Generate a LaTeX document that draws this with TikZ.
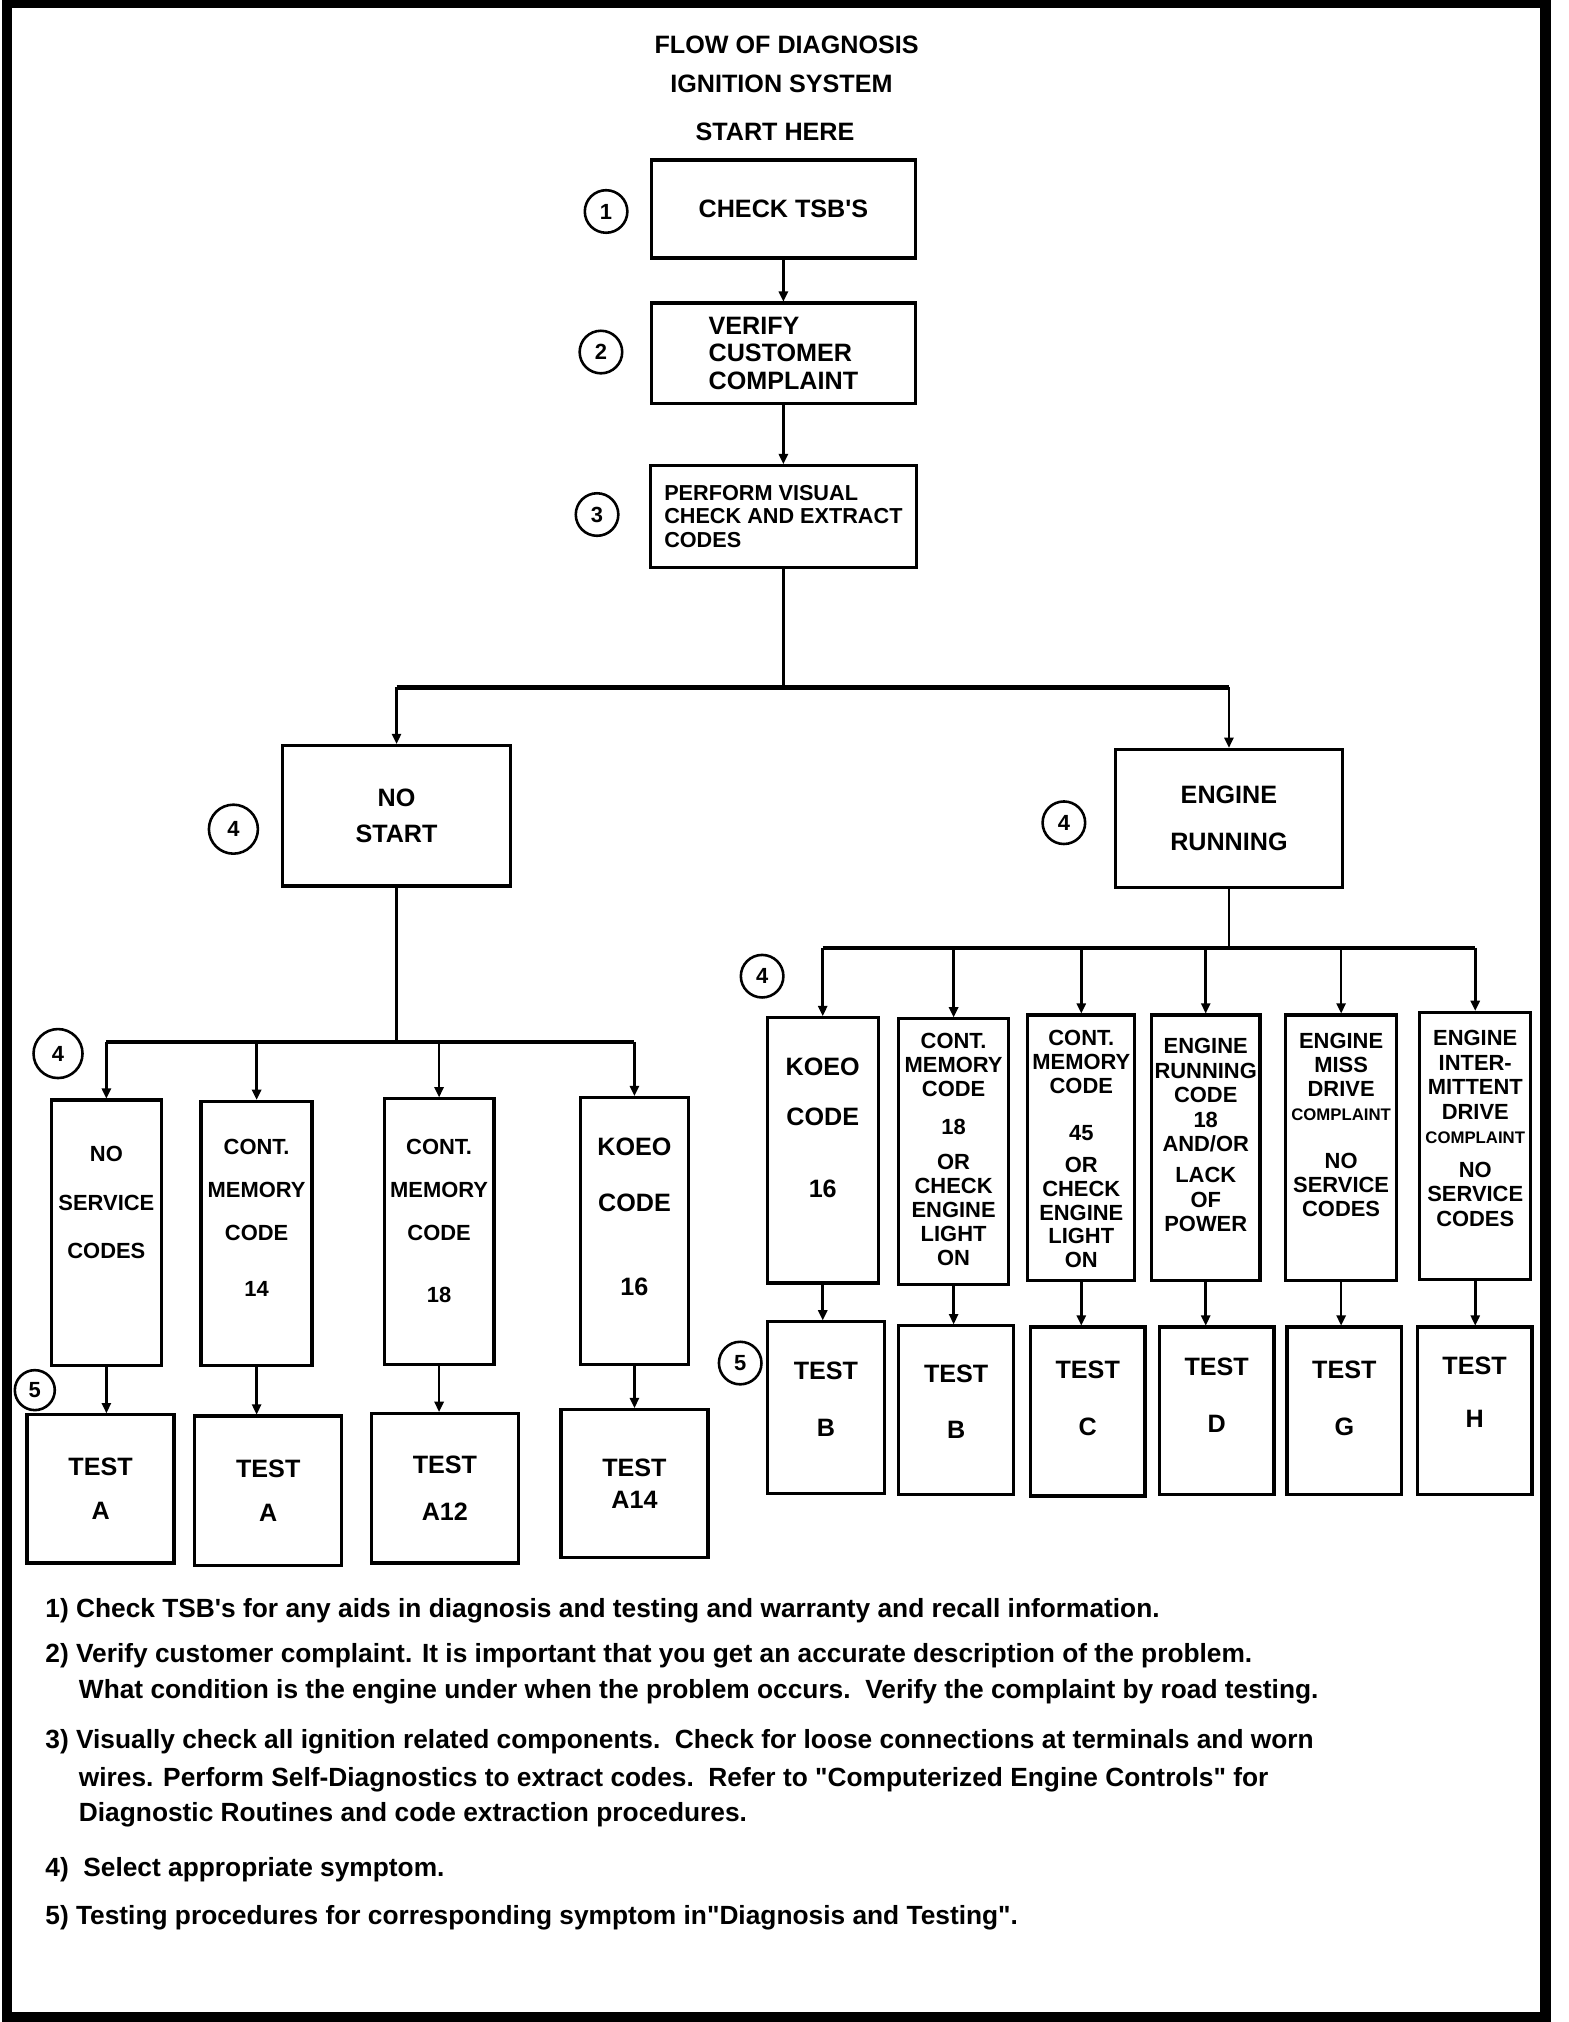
\documentclass[tikz,border=0pt]{standalone}
\usepackage{fontspec}
\setmainfont{Liberation Sans}
\usetikzlibrary{positioning,arrows.meta}

\begin{document}
\begin{tikzpicture}[x=1pt,y=-1pt,
    box/.style={draw,line width=2.6pt,inner sep=0pt,outer sep=0pt},
    txt/.style 2 args={font=\fontsize{#1}{#2}\selectfont\bfseries,align=center,inner sep=0pt},
    num/.style={circle,draw,line width=2pt,minimum size=33pt,inner sep=0pt,font=\fontsize{17}{17}\selectfont\bfseries},
    note/.style={font=\fontsize{20.4}{24}\selectfont\bfseries,anchor=west,inner sep=0pt},
    line/.style={line width=2pt},
    bar/.style={line width=3.5pt},
    arr/.style={line width=2pt,-{Triangle[length=8pt,width=7pt]},shorten >=1pt}]

    \useasboundingbox (0,0) rectangle (1216,1568);
    \draw[line width=8pt] (5.5,2.5) rectangle (1198.5,1564);

    % title
    \node[txt={19.5}{23}] (title1) at (610,35) {FLOW OF DIAGNOSIS};
    \node[txt={19.5}{23}] (title2) at (606,65) {IGNITION SYSTEM};
    \node[txt={19.5}{23}] (start) at (601,102) {START HERE};

    % main column
    \node[box,txt={19.5}{23},minimum width=205pt,minimum height=76pt] (tsb) at (607.5,162) {CHECK TSB\textquotesingle S};
    \node[box,txt={19.5}{21.5},align=left,minimum width=205pt,minimum height=78pt] (verify) at (607.5,274) {VERIFY\\CUSTOMER\\COMPLAINT};
    \node[box,txt={16.8}{18.5},align=left,minimum width=206pt,minimum height=79pt] (visual) at (607.5,400.5) {PERFORM VISUAL\\CHECK AND EXTRACT\\CODES};

    \node[box,txt={19.5}{28},minimum width=177pt,minimum height=109pt] (nostart) at (307.5,632.5) {NO\\START};
    \node[box,txt={19.5}{37},minimum width=176pt,minimum height=107pt] (running) at (953,634.5) {ENGINE\\RUNNING};

    \node[num] (c1) at (470,164) {1};
    \node[num] (c2) at (466,273) {2};
    \node[num] (c3) at (463,399) {3};
    \node[num,minimum size=38pt] (c4a) at (181,643) {4};
    \node[num] (c4b) at (825,638) {4};
    \node[num,minimum size=38pt] (c4c) at (45,817) {4};
    \node[num] (c4d) at (591,757) {4};
    \node[num,minimum size=31pt] (c5a) at (27,1078) {5};
    \node[num] (c5b) at (574,1057) {5};

    % no start symptoms
    \node[box,minimum width=85pt,minimum height=206pt] (l1) at (82.5,956) {};
    \node[box,minimum width=86pt,minimum height=205pt] (l2) at (199,956.5) {};
    \node[box,minimum width=85pt,minimum height=206pt] (l3) at (340.5,955) {};
    \node[box,minimum width=84pt,minimum height=207pt] (l4) at (492,954.5) {};
    \node[txt={17}{37.5},below=36pt of l1.north] (l1t) {NO\\SERVICE\\CODES};
    \node[txt={17}{33.5},below=29pt of l2.north] (l2t) {CONT.\\MEMORY\\CODE\\[10pt]14};
    \node[txt={17}{33.5},below=31pt of l3.north] (l3t) {CONT.\\MEMORY\\CODE\\[14.5pt]18};
    \node[txt={19.5}{44},below=31pt of l4.north] (l4t) {KOEO\\CODE\\[21pt]16};

    \node[box,txt={19.5}{34},minimum width=114pt,minimum height=115pt] (t1) at (78,1154.5) {TEST\\A};
    \node[box,txt={19.5}{34},minimum width=114pt,minimum height=116pt] (t2) at (208,1156) {TEST\\A};
    \node[box,txt={19.5}{36},minimum width=114pt,minimum height=116pt] (t3) at (345,1154) {TEST\\A12};
    \node[box,txt={19.5}{25},minimum width=114pt,minimum height=115pt] (t4) at (492,1150.5) {TEST\\A14};

    % engine running symptoms
    \node[box,minimum width=86pt,minimum height=206pt] (r1) at (638,892) {};
    \node[box,minimum width=85pt,minimum height=206pt] (r2) at (739.5,893) {};
    \node[box,minimum width=83pt,minimum height=206pt] (r3) at (838.5,890) {};
    \node[box,minimum width=84pt,minimum height=206pt] (r4) at (935,890) {};
    \node[box,minimum width=86pt,minimum height=206pt] (r5) at (1040,890) {};
    \node[box,minimum width=86pt,minimum height=207pt] (r6) at (1144,888.5) {};
    \node[txt={19.5}{39},below=31pt of r1.north] (r1t) {KOEO\\CODE\\[17pt]16};
    \node[txt={17}{18.5},below=11pt of r2.north] (r2t) {CONT.\\MEMORY\\CODE\\[11.5pt]18\\[8.5pt]OR\\CHECK\\ENGINE\\LIGHT\\ON};
    \node[txt={17}{18.5},below=12pt of r3.north] (r3t) {CONT.\\MEMORY\\CODE\\[17.5pt]45\\[6.5pt]OR\\CHECK\\ENGINE\\LIGHT\\ON};
    \node[txt={17}{19},below=18pt of r4.north] (r4t) {ENGINE\\RUNNING\\CODE\\18\\AND/OR\\[5pt]LACK\\OF\\POWER};
    \node[txt={17}{18.5},below=14pt of r5.north] (r5t) {ENGINE\\MISS\\DRIVE\\{\fontsize{13}{13}\selectfont COMPLAINT}\\[19pt]NO\\SERVICE\\CODES};
    \node[txt={17}{19},below=14pt of r6.north] (r6t) {ENGINE\\INTER-\\MITTENT\\DRIVE\\{\fontsize{13}{13}\selectfont COMPLAINT}\\[7pt]NO\\SERVICE\\CODES};

    \node[box,minimum width=91pt,minimum height=133pt] (tr1) at (640.5,1091.5) {};
    \node[box,minimum width=89pt,minimum height=131pt] (tr2) at (741.5,1093.5) {};
    \node[box,minimum width=89pt,minimum height=131pt] (tr3) at (843.5,1094.5) {};
    \node[box,minimum width=89pt,minimum height=130pt] (tr4) at (943.5,1094) {};
    \node[box,minimum width=89pt,minimum height=130pt] (tr5) at (1042.5,1094) {};
    \node[box,minimum width=89pt,minimum height=130pt] (tr6) at (1143.5,1094) {};
    \node[txt={19.5}{44},below=31pt of tr1.north] (tr1t) {TEST\\B};
    \node[txt={19.5}{44},below=30pt of tr2.north] (tr2t) {TEST\\B};
    \node[txt={19.5}{44},below=26pt of tr3.north] (tr3t) {TEST\\C};
    \node[txt={19.5}{44},below=24pt of tr4.north] (tr4t) {TEST\\D};
    \node[txt={19.5}{44},below=26pt of tr5.north] (tr5t) {TEST\\G};
    \node[txt={19.5}{41},below=23pt of tr6.north] (tr6t) {TEST\\H};

    % connectors
    \coordinate (split) at (607.5,533);
    \coordinate (lsplit) at (307.5,808);
    \coordinate (rsplit) at (953,735);

    \draw[arr] (tsb) -- (verify);
    \draw[arr] (verify) -- (visual);
    \draw[line] (visual) -- (split);
    \draw[bar] (split -| nostart) -- (split -| running);
    \draw[arr] (split -| nostart) -- (nostart);
    \draw[arr] (split -| running) -- (running);

    \draw[line] (nostart) -- (lsplit);
    \draw[bar] (lsplit -| l1) -- (lsplit -| l4);
    \draw[arr] (lsplit -| l1) -- (l1);
    \draw[arr] (lsplit -| l2) -- (l2);
    \draw[arr] (lsplit -| l3) -- (l3);
    \draw[arr] (lsplit -| l4) -- (l4);
    \draw[arr] (l1) -- (l1 |- t1.north);
    \draw[arr] (l2) -- (l2 |- t2.north);
    \draw[arr] (l3) -- (l3 |- t3.north);
    \draw[arr] (l4) -- (l4 |- t4.north);

    \draw[line] (running) -- (rsplit);
    \draw[bar] (rsplit -| r1) -- (rsplit -| r6);
    \draw[arr] (rsplit -| r1) -- (r1);
    \draw[arr] (rsplit -| r2) -- (r2);
    \draw[arr] (rsplit -| r3) -- (r3);
    \draw[arr] (rsplit -| r4) -- (r4);
    \draw[arr] (rsplit -| r5) -- (r5);
    \draw[arr] (rsplit -| r6) -- (r6);
    \draw[arr] (r1) -- (r1 |- tr1.north);
    \draw[arr] (r2) -- (r2 |- tr2.north);
    \draw[arr] (r3) -- (r3 |- tr3.north);
    \draw[arr] (r4) -- (r4 |- tr4.north);
    \draw[arr] (r5) -- (r5 |- tr5.north);
    \draw[arr] (r6) -- (r6 |- tr6.north);

    % notes
    \node[note] (note1) at (35,1249) {1) Check TSB\textquotesingle s for any aids in diagnosis and testing and warranty and recall information.};
    \node[note] (note2a) at (35,1284) {2) Verify customer complaint. It is important that you get an accurate description of the problem.};
    \node[note] (note2b) at (61,1312) {What condition is the engine under when the problem occurs.\ \ Verify the complaint by road testing.};
    \node[note] (note3a) at (35,1351) {3) Visually check all ignition related components.\ \ Check for loose connections at terminals and worn};
    \node[note] (note3b) at (61,1380) {wires. Perform Self-Diagnostics to extract codes.\ \ Refer to \textquotedbl Computerized Engine Controls\textquotedbl\ for};
    \node[note] (note3c) at (61,1407) {Diagnostic Routines and code extraction procedures.};
    \node[note] (note4) at (35,1450) {4)\ \ Select appropriate symptom.};
    \node[note] (note5) at (35,1487) {5) Testing procedures for corresponding symptom in\textquotedbl Diagnosis and Testing\textquotedbl.};
\end{tikzpicture}
\end{document}
